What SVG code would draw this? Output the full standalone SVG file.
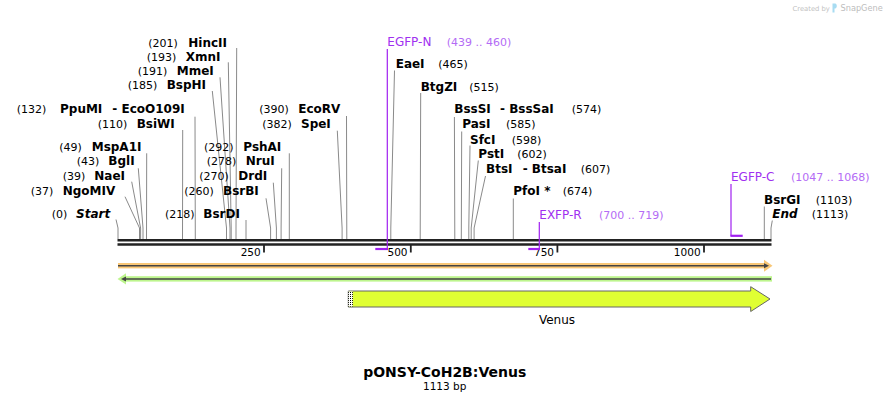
<svg xmlns="http://www.w3.org/2000/svg" width="890" height="402" viewBox="0 0 890 402">
<style>
text{font-family:"DejaVu Sans","Verdana",sans-serif;fill:#000}
.n{font-size:11px}
.b{font-size:12px;font-weight:bold}
.i{font-style:italic}
.p{font-size:12px;fill:#a030f0}
.pr{font-size:11px;fill:#b46cf5}
.tk{font-size:10.5px;text-anchor:end}
.c line,.c polyline{stroke:#8a8a8a;stroke-width:1;fill:none}
.pl{stroke:#a020f0;stroke-width:1.2;fill:none}
.pb{stroke:#a020f0;stroke-width:2.2}
</style>
<defs>
<pattern id="dots" width="2" height="2" patternUnits="userSpaceOnUse">
<rect width="2" height="2" fill="#fff"/>
<rect width="1" height="1" fill="#000"/>
</pattern>
</defs>
<rect width="890" height="402" fill="#fff"/>

<g id="watermark">
<text x="792.5" y="10.5" style="font-size:6.8px;fill:#c2c2c2">Created by</text>
<path d="M832.5 3.5 h3 a3 3 0 0 1 0 5 h-1 v4 h-2 z" fill="#a8dcf2"/>
<text x="840.5" y="11" style="font-size:8.2px;fill:#bdbdbd">SnapGene</text>
</g>

<g id="connectors" class="c">
<polyline points="116,219.5 118,228 118,239"/>
<polyline points="125,196.7 139.5,228 139.5,239"/>
<polyline points="131.7,181.7 140.6,228 140.6,239"/>
<polyline points="138.3,168.3 143,228 143,239"/>
<polyline points="146.7,153.3 146.5,239"/>
<polyline points="182.7,130 182.5,239"/>
<polyline points="195,116.7 195.3,239"/>
<polyline points="212.3,91 226.5,228 226.5,239"/>
<polyline points="220,77.3 230,228 230,239"/>
<polyline points="228.3,62.3 231.2,228 231.2,239"/>
<polyline points="236.7,48 236,228 236,239"/>
<polyline points="246,220 246,239"/>
<polyline points="266,198.3 270.6,228 270.6,239"/>
<polyline points="273.3,182.7 276.4,228 276.4,239"/>
<polyline points="281.7,168.3 281.1,228 281.1,239"/>
<polyline points="289.3,153.3 289.3,239"/>
<polyline points="337.3,130.7 342.1,228 342.1,239"/>
<polyline points="346.5,116 346.8,239"/>
<polyline points="394.5,70.5 390.8,228 390.8,239"/>
<polyline points="420.7,93 420.2,239"/>
<polyline points="454.4,117 454.8,239"/>
<polyline points="461.7,131.5 461.3,239"/>
<polyline points="470,145.5 468.8,228 468.8,239"/>
<polyline points="478.3,160.5 471.2,228 471.2,239"/>
<polyline points="485.5,176 474.1,228 474.1,239"/>
<polyline points="513.3,198.5 513.3,239"/>
<polyline points="764.3,206.5 764.3,239"/>
<polyline points="772.3,220.5 771,228 771,239"/>
</g>

<g id="backbone">
<line x1="117.5" y1="240.2" x2="771.5" y2="240.2" stroke="#222" stroke-width="2.5"/>
<line x1="117.5" y1="244.4" x2="771.5" y2="244.4" stroke="#222" stroke-width="2.5"/>
<g stroke="#222" stroke-width="1.8">
<line x1="264" y1="245" x2="264" y2="252.5"/>
<line x1="410.8" y1="245" x2="410.8" y2="252.5"/>
<line x1="557.4" y1="245" x2="557.4" y2="252.5"/>
<line x1="704" y1="245" x2="704" y2="252.5"/>
</g>
<text class="tk" x="260.7" y="255.8">250</text>
<text class="tk" x="407.5" y="255.8">500</text>
<text class="tk" x="554" y="255.8">750</text>
<text class="tk" x="700.6" y="255.8">1000</text>
</g>

<g id="primer-EGFP-N">
<line class="pl" x1="387.3" y1="49" x2="387.3" y2="249"/>
<line class="pb" x1="375.3" y1="249" x2="388" y2="249"/>
<text class="p" x="387.3" y="46">EGFP-N</text>
<text class="pr" x="446.7" y="46">(439 .. 460)</text>
</g>
<g id="primer-EXFP-R">
<line class="pl" x1="539.3" y1="222" x2="539.3" y2="249"/>
<line class="pb" x1="528.3" y1="249" x2="540" y2="249"/>
<text class="p" x="539.3" y="219.3">EXFP-R</text>
<text class="pr" x="599" y="219.3">(700 .. 719)</text>
</g>
<g id="primer-EGFP-C">
<line class="pl" x1="731" y1="184" x2="731" y2="235.8"/>
<line class="pb" x1="730.4" y1="235.8" x2="742.7" y2="235.8"/>
<text class="p" x="731" y="180.7">EGFP-C</text>
<text class="pr" x="791" y="180.7">(1047 .. 1068)</text>
</g>

<g id="site-Start"><text class="n" x="51.7" y="218.3">(0)</text><text class="b i" x="76" y="218.3">Start</text></g>
<g id="site-NgoMIV"><text class="n" x="30.7" y="194.7">(37)</text><text class="b" x="62.7" y="194.7">NgoMIV</text></g>
<g id="site-NaeI"><text class="n" x="62.7" y="180">(39)</text><text class="b" x="94.3" y="180">NaeI</text></g>
<g id="site-BglI"><text class="n" x="76.7" y="165.3">(43)</text><text class="b" x="108.3" y="165.3">BglI</text></g>
<g id="site-MspA1I"><text class="n" x="59.3" y="150.7">(49)</text><text class="b" x="91.7" y="150.7">MspA1I</text></g>
<g id="site-BsiWI"><text class="n" x="97.7" y="127.7">(110)</text><text class="b" x="136.7" y="127.7">BsiWI</text></g>
<g id="site-PpuMI"><text class="n" x="16.7" y="113.3">(132)</text><text class="b" x="60" y="113.3">PpuMI</text><text class="b" x="112.3" y="113.3">- EcoO109I</text></g>
<g id="site-BspHI"><text class="n" x="127.7" y="89.3">(185)</text><text class="b" x="166.7" y="89.3">BspHI</text></g>
<g id="site-MmeI"><text class="n" x="137.7" y="75.3">(191)</text><text class="b" x="176.7" y="75.3">MmeI</text></g>
<g id="site-XmnI"><text class="n" x="146.7" y="60.7">(193)</text><text class="b" x="185.7" y="60.7">XmnI</text></g>
<g id="site-HincII"><text class="n" x="148.3" y="46.7">(201)</text><text class="b" x="188.3" y="46.7">HincII</text></g>
<g id="site-BsrDI"><text class="n" x="165" y="218.3">(218)</text><text class="b" x="203.3" y="218.3">BsrDI</text></g>
<g id="site-BsrBI"><text class="n" x="184.3" y="194.7">(260)</text><text class="b" x="223" y="194.7">BsrBI</text></g>
<g id="site-DrdI"><text class="n" x="199.3" y="180">(270)</text><text class="b" x="238.3" y="180">DrdI</text></g>
<g id="site-NruI"><text class="n" x="206.7" y="165.3">(278)</text><text class="b" x="245.7" y="165.3">NruI</text></g>
<g id="site-PshAI"><text class="n" x="204" y="150.7">(292)</text><text class="b" x="243.3" y="150.7">PshAI</text></g>
<g id="site-SpeI"><text class="n" x="262.3" y="127.7">(382)</text><text class="b" x="301" y="127.7">SpeI</text></g>
<g id="site-EcoRV"><text class="n" x="259.3" y="113.3">(390)</text><text class="b" x="298.3" y="113.3">EcoRV</text></g>
<g id="site-EaeI"><text class="b" x="395.7" y="68.3">EaeI</text><text class="n" x="438.3" y="68.3">(465)</text></g>
<g id="site-BtgZI"><text class="b" x="420.7" y="90.7">BtgZI</text><text class="n" x="469.3" y="90.7">(515)</text></g>
<g id="site-BssSI"><text class="b" x="454.3" y="113.3">BssSI</text><text class="b" x="500" y="113.3">- BssSaI</text><text class="n" x="571.7" y="113.3">(574)</text></g>
<g id="site-PasI"><text class="b" x="462.3" y="127.7">PasI</text><text class="n" x="506" y="127.7">(585)</text></g>
<g id="site-SfcI"><text class="b" x="470" y="143.5">SfcI</text><text class="n" x="511.7" y="143.5">(598)</text></g>
<g id="site-PstI"><text class="b" x="478.3" y="158.3">PstI</text><text class="n" x="517.3" y="158.3">(602)</text></g>
<g id="site-BtsI"><text class="b" x="486" y="173.3">BtsI</text><text class="b" x="522.7" y="173.3">- BtsaI</text><text class="n" x="580.7" y="173.3">(607)</text></g>
<g id="site-PfoI"><text class="b" x="513.3" y="195">PfoI *</text><text class="n" x="562.7" y="195">(674)</text></g>
<g id="site-BsrGI"><text class="b" x="764" y="204">BsrGI</text><text class="n" x="815.7" y="204">(1103)</text></g>
<g id="site-End"><text class="b i" x="772.3" y="218.3">End</text><text class="n" x="811.7" y="218.3">(1113)</text></g>

<g id="feature-orange">
<rect x="118" y="263" width="647" height="5.4" fill="#f9c777"/>
<polygon points="764,259.7 772.5,265.7 764,271.7" fill="#f9c777"/>
<line x1="118" y1="265.7" x2="765" y2="265.7" stroke="#444" stroke-width="1.5"/>
<polygon points="764,263.2 769,265.7 764,268.2" fill="#444"/>
</g>
<g id="feature-green">
<rect x="125" y="276.2" width="647" height="5.4" fill="#bdf58d"/>
<polygon points="126,273.3 117.5,278.9 126,284.5" fill="#bdf58d"/>
<line x1="125" y1="278.9" x2="771" y2="278.9" stroke="#444" stroke-width="1.5"/>
<polygon points="126,276.4 121,278.9 126,281.4" fill="#444"/>
</g>
<g id="feature-Venus">
<polygon points="348.3,291 750.7,291 750.7,286.7 770,299 750.7,311.5 750.7,307 348.3,307" fill="#e0ff33" stroke="#666" stroke-width="1"/>
<rect x="348.3" y="291.5" width="4.5" height="15" fill="url(#dots)"/>
<text x="557" y="324" style="font-size:12px;text-anchor:middle">Venus</text>
</g>

<g id="title">
<text x="444.7" y="376.5" style="font-size:14px;font-weight:bold;text-anchor:middle">pONSY-CoH2B:Venus</text>
<text x="444.7" y="389.5" style="font-size:10.5px;text-anchor:middle">1113 bp</text>
</g>
</svg>
